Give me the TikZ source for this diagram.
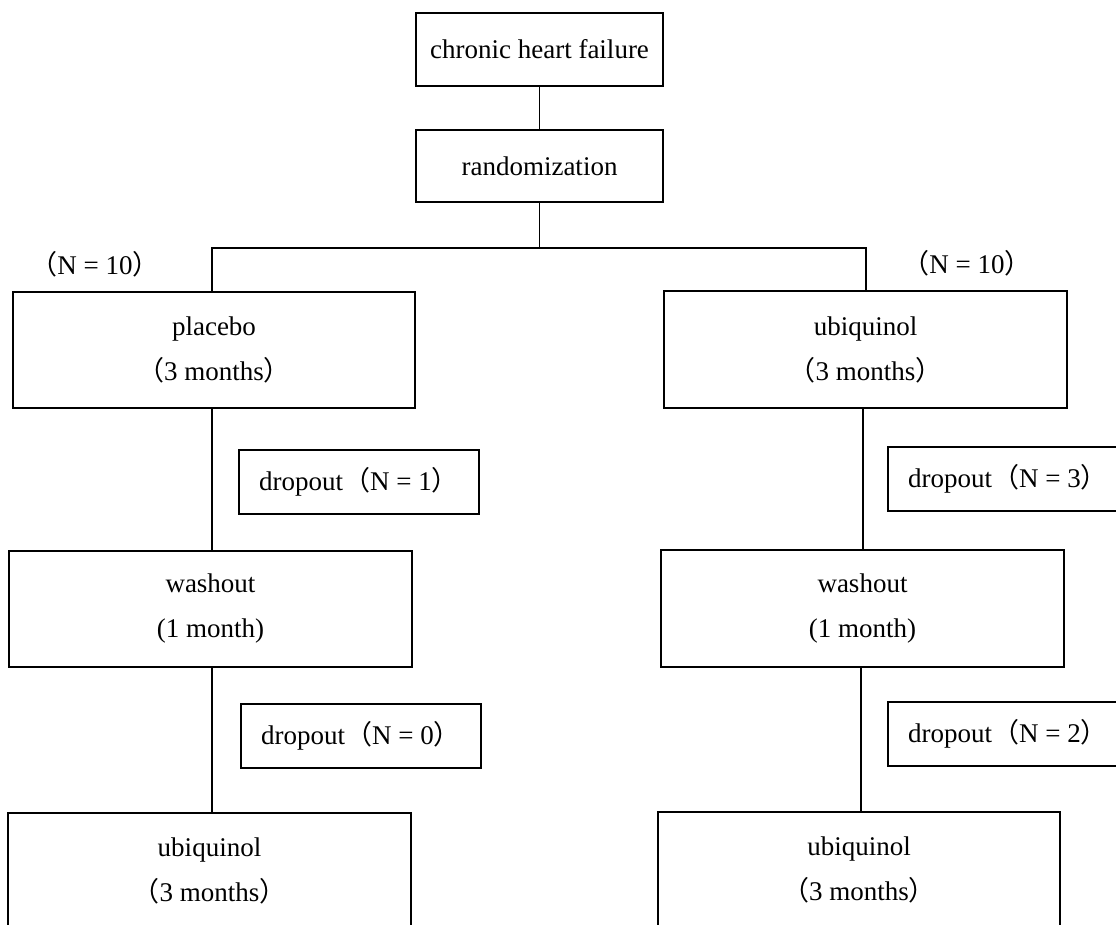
\documentclass[tikz,border=0pt]{standalone}
\usepackage{fontspec}
\setmainfont{Liberation Serif}
\newfontfamily\cjkfont{Noto Sans CJK SC}
\newcommand{\lpar}{{\cjkfont （}}
\newcommand{\rpar}{{\cjkfont ）}}
\begin{document}
\begin{tikzpicture}[x=1pt,y=-1pt,line width=1.4pt,
  box/.style={draw,rectangle,inner sep=0pt,align=center,font=\fontsize{27}{45}\selectfont},
  lbl/.style={inner sep=0pt,font=\fontsize{27}{45}\selectfont}]
\clip (0,0) rectangle (1116,925);
\fill[white] (0,0) rectangle (1116,925);

\node[box,minimum width=247,minimum height=73] (top) at (539.5,49.5) {chronic heart failure};
\node[box,minimum width=247,minimum height=72] (rand) at (539.5,166) {randomization};

\node[box,minimum width=402,minimum height=116] (placebo) at (214,350) {placebo\\\lpar 3 months\rpar};
\node[box,minimum width=403,minimum height=117] (ubiqA) at (865.5,349.5) {ubiquinol\\\lpar 3 months\rpar};

\node[lbl,anchor=base] (nL) at (95,275) {\lpar N = 10\rpar};
\node[lbl,anchor=base] (nR) at (967,273) {\lpar N = 10\rpar};

\node[box,minimum width=240,minimum height=64] (dropLA) at (359,482) {dropout\lpar N = 1\rpar};
\node[box,minimum width=403,minimum height=116] (washL) at (210.5,609) {washout\\(1 month)};
\node[box,minimum width=240,minimum height=64] (dropLB) at (361,736) {dropout\lpar N = 0\rpar};
\node[box,minimum width=403,minimum height=116] (botL) at (209.5,871) {ubiquinol\\\lpar 3 months\rpar};

\node[box,minimum width=240,minimum height=64] (dropRA) at (1008,479) {dropout\lpar N = 3\rpar};
\node[box,minimum width=403,minimum height=117] (washR) at (862.5,608.5) {washout\\(1 month)};
\node[box,minimum width=240,minimum height=64] (dropRB) at (1008,734) {dropout\lpar N = 2\rpar};
\node[box,minimum width=402,minimum height=116] (botR) at (859,870) {ubiquinol\\\lpar 3 months\rpar};

\coordinate (split) at (539.5,248);
\coordinate (lx) at (212,248);
\coordinate (rx) at (866,248);
\coordinate (rxb) at (863,0);
\coordinate (rxc) at (861,0);

\draw (top) -- (rand);
\draw (rand.south) -- (split);
\draw (placebo.north -| lx) |- (split) -| (ubiqA.north -| rx);
\draw (placebo.south -| lx) -- (washL.north -| lx);
\draw (washL.south -| lx) -- (botL.north -| lx);
\draw (ubiqA.south -| rxb) -- (washR.north -| rxb);
\draw (washR.south -| rxc) -- (botR.north -| rxc);
\end{tikzpicture}
\end{document}
